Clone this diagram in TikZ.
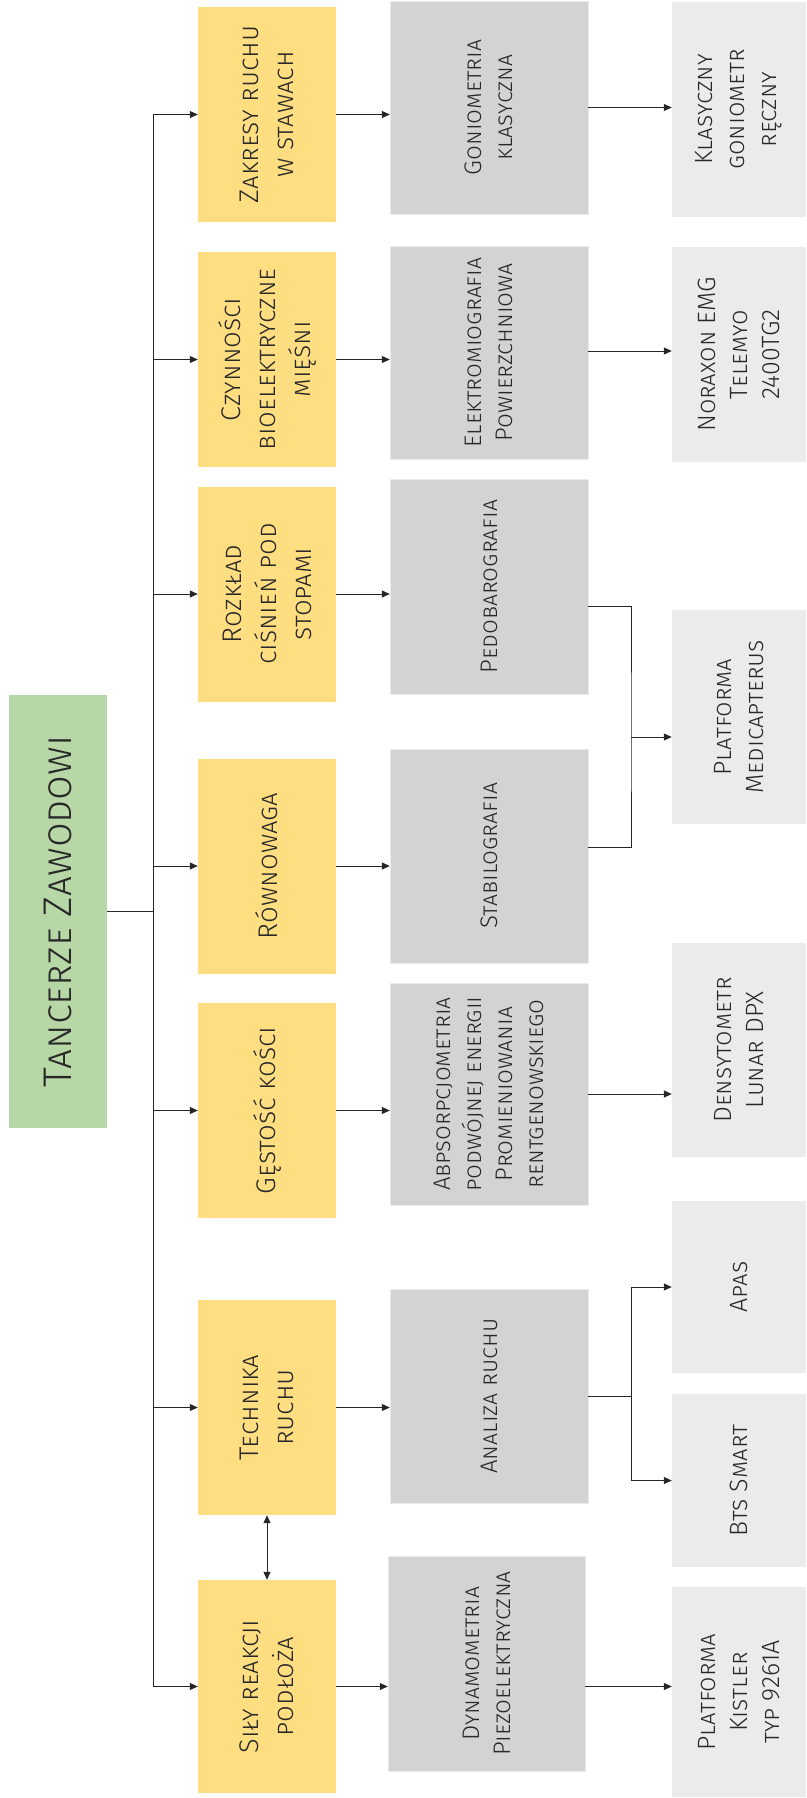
\documentclass[tikz,border=0pt]{standalone}
\usepackage{fontspec}
\setmainfont{Fira Sans Light}
\usetikzlibrary{positioning,arrows.meta,calc}
\definecolor{zielony}{RGB}{184,215,166}
\definecolor{zolty}{RGB}{255,222,130}
\definecolor{szary}{RGB}{211,211,211}
\definecolor{jasnoszary}{RGB}{235,235,235}
\definecolor{tekst}{RGB}{40,40,40}

\begin{document}
\begin{tikzpicture}[x=1pt, y=-1pt,
  glowny/.style={fill=zielony, rotate=90, minimum width=433pt, minimum height=98pt,
                 align=center, text=tekst, font=\fontsize{40}{48}\selectfont\scshape},
  cel/.style={fill=zolty, rotate=90, minimum width=215pt, minimum height=138pt,
              inner sep=0pt, align=center, text=tekst, font=\fontsize{27}{35}\selectfont\scshape},
  metoda/.style={fill=szary, draw=black!8, rotate=90, minimum width=214pt, minimum height=198pt,
                 inner sep=0pt, align=center, text=tekst, font=\fontsize{24}{31}\selectfont\scshape},
  urzadzenie/.style={fill=jasnoszary, rotate=90, minimum width=215pt, minimum height=134pt,
                     inner sep=0pt, align=center, text=tekst, font=\fontsize{25}{32}\selectfont\scshape},
  linia/.style={line width=1pt, color=black!85},
  strzalka/.style={linia, -{Triangle[length=8pt, width=7pt]}},
  strzalki/.style={linia, {Triangle[length=8pt, width=7pt]}-{Triangle[length=8pt, width=7pt]}}]
  \useasboundingbox (0,0) rectangle (806,1798);
  % poziom 0
  \node[glowny] (tancerze) at (58,911.5) {Tancerze Zawodowi};
  \coordinate (pien) at (153,911.5);
  % poziom 1
  \node[cel] (zakres)    at (267,114.5)  {Zakresy ruchu\\w stawach};
  \node[cel] (czynnosc)  at (267,359.5)  {Czynności\\bioelektryczne\\mięśni};
  \node[cel] (rozklad)   at (267,594)    {Rozkład\\ciśnień pod\\stopami};
  \node[cel] (rownowaga) at (267,866)    {Równowaga};
  \node[cel] (gestosc)   at (267,1110.5) {Gęstość kości};
  \node[cel] (technika)  at (267,1407.5) {Technika\\ruchu};
  \node[cel, minimum width=213pt] (sily) at (267,1686.5) {Siły reakcji\\podłoża};
  % poziom 2
  \node[metoda, minimum width=213pt] (gonio) at (489,107.5) {Goniometria\\klasyczna};
  \node[metoda, minimum width=213pt] (emg)   at (489,352.5) {Elektromiografia\\Powierzchniowa};
  \node[metoda, minimum width=215pt] (pedo)  at (489,586.5) {Pedobarografia};
  \node[metoda] (stabilo) at (489,856)  {Stabilografia};
  \node[metoda, minimum width=222pt] (dxa) at (489,1094)
       {Abpsorpcjometria\\podwójnej energii\\Promieniowania\\rentgenowskiego};
  \node[metoda] (analiza) at (489,1396) {Analiza ruchu};
  \node[metoda, minimum width=215pt, minimum height=197pt] (dynamo) at (486.5,1663.5)
       {Dynamometria\\Piezoelektryczna};
  % poziom 3
  \node[urzadzenie] (goniometr)    at (739,109.5) {Klasyczny\\goniometr\\ręczny};
  \node[urzadzenie] (noraxon)      at (739,354.5) {Noraxon EMG\\Telemyo\\2400TG2};
  \node[urzadzenie, minimum width=214pt] (medicapterus) at (739,717) {Platforma\\Medicapterus};
  \node[urzadzenie, minimum width=214pt] (densytometr)  at (739,1050) {Densytometr\\Lunar DPX};
  \node[urzadzenie, minimum width=172pt] (apas) at (739,1287)   {Apas};
  \node[urzadzenie, minimum width=173pt] (bts)  at (739,1480.5) {Bts Smart};
  \node[urzadzenie, minimum width=210pt] (kistler) at (739,1692) {Platforma\\Kistler\\typ 9261A};
  \coordinate (wezel1) at (631,737);
  \coordinate (wezel2) at (631,1396);

  \draw[linia] (tancerze.south) -- (pien);
  \draw[linia] (zakres.north -| pien) -- (sily.north -| pien);
  \foreach \c in {zakres,czynnosc,rozklad,rownowaga,gestosc,technika,sily}
    \draw[strzalka] (\c.north -| pien) -- (\c.north);
  \draw[strzalka] (zakres.south) -- (zakres.south -| gonio.north);
  \draw[strzalka] (czynnosc.south) -- (czynnosc.south -| emg.north);
  \draw[strzalka] (rozklad.south) -- (rozklad.south -| pedo.north);
  \draw[strzalka] (rownowaga.south) -- (rownowaga.south -| stabilo.north);
  \draw[strzalka] (gestosc.south) -- (gestosc.south -| dxa.north);
  \draw[strzalka] (technika.south) -- (technika.south -| analiza.north);
  \draw[strzalka] (sily.south) -- (sily.south -| dynamo.north);
  \draw[strzalki] (technika.west) -- (sily.east);

  \draw[strzalka] (gonio.south) -- (gonio.south -| goniometr.north);
  \draw[strzalka] ([yshift=1.5pt]emg.south) -- ([yshift=1.5pt]emg.south -| noraxon.north);
  \draw[linia] ([yshift=-19.5pt]pedo.south) -| (wezel1) |- ([yshift=9pt]stabilo.south);
  \draw[strzalka] (wezel1) -- (wezel1 -| medicapterus.north);
  \draw[strzalka] (dxa.south) -- (dxa.south -| densytometr.north);
  \draw[linia] (analiza.south) -- (wezel2);
  \draw[strzalka] (wezel2) |- (apas.north);
  \draw[strzalka] (wezel2) |- (bts.north);
  \draw[strzalka] (sily.south -| dynamo.south) -- (sily.south -| kistler.north);
\end{tikzpicture}
\end{document}
